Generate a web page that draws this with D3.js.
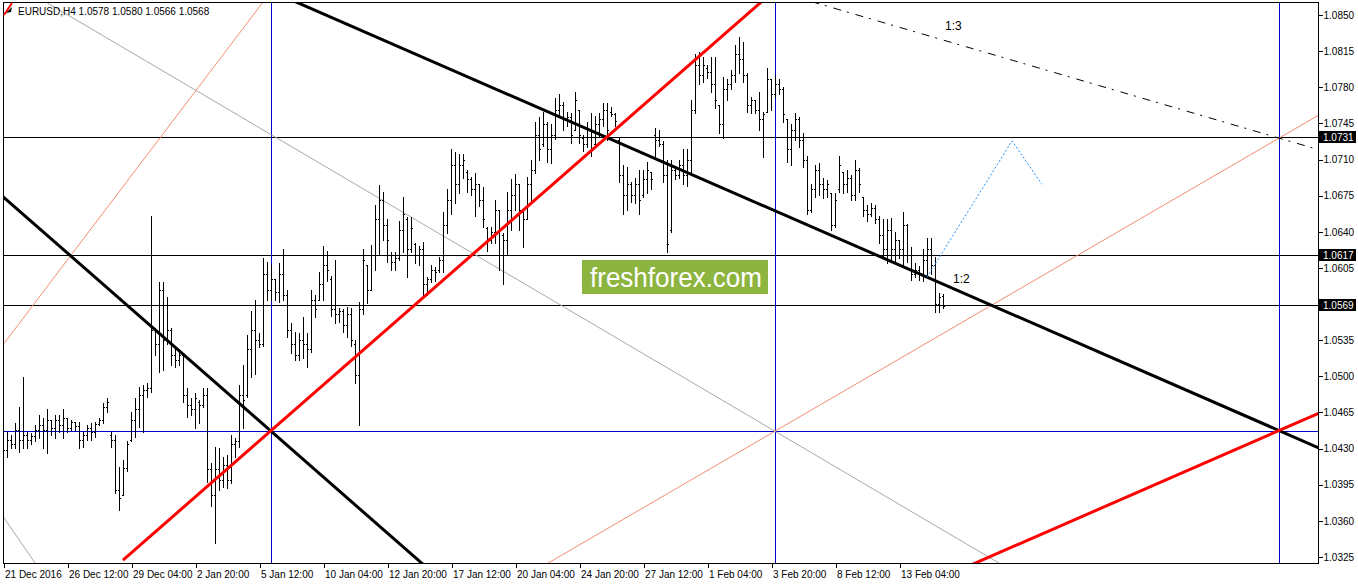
<!DOCTYPE html>
<html><head><meta charset="utf-8">
<script src="https://cdn.jsdelivr.net/npm/d3@7"></script>
<style>
html,body{margin:0;padding:0;background:#fff;overflow:hidden;}
svg{display:block;}
text{font-family:"Liberation Sans",Arial,sans-serif;}
</style></head><body>
<svg id="c" width="1358" height="584"></svg>
<script>
// ---------------- DATA ----------------
const symbol = "EURUSD,H4";
const lastOHLC = [1.0578, 1.0580, 1.0566, 1.0568];

const high = [
1.0432,1.0446,1.0443,1.0455,1.0470,1.0499,1.0446,1.0445,1.0453,1.0463,
1.0460,1.0468,1.0458,1.0463,1.0463,1.0468,1.0460,1.0458,1.0456,1.0456,
1.0446,1.0453,1.0455,1.0456,1.0460,1.0474,1.0479,1.0446,1.0443,1.0412,
1.0419,1.0437,1.0465,1.0479,1.0490,1.0492,1.0494,1.0655,1.0547,1.0591,
1.0591,1.0577,1.0547,1.0528,1.0526,1.0523,1.0489,1.0479,1.0484,1.0477,
1.0489,1.0489,1.0416,1.0432,1.0431,1.0422,1.0424,1.0443,1.0440,1.0492,
1.0511,1.0540,1.0563,1.0574,1.0542,1.0615,1.0611,1.0608,1.0594,1.0610,
1.0623,1.0584,1.0552,1.0543,1.0542,1.0557,1.0542,1.0584,1.0579,1.0601,
1.0626,1.0621,1.0597,1.0613,1.0566,1.0565,1.0567,1.0566,1.0535,1.0572,
1.0623,1.0608,1.0627,1.0666,1.0685,1.0679,1.0652,1.0620,1.0620,1.0650,
1.0674,1.0654,1.0654,1.0629,1.0626,1.0630,1.0596,1.0608,1.0606,1.0616,
1.0659,1.0681,1.0720,1.0717,1.0715,1.0715,1.0700,1.0693,1.0697,1.0686,
1.0683,1.0645,1.0645,1.0671,1.0661,1.0639,1.0679,1.0691,1.0696,1.0686,
1.0661,1.0693,1.0710,1.0746,1.0751,1.0756,1.0746,1.0744,1.0770,1.0773,
1.0766,1.0756,1.0755,1.0775,1.0758,1.0734,1.0746,1.0755,1.0752,1.0755,
1.0765,1.0765,1.0761,1.0755,1.0731,1.0705,1.0703,1.0688,1.0692,1.0700,
1.0700,1.0708,1.0698,1.0741,1.0739,1.0728,1.0710,1.0710,1.0702,1.0710,
1.0720,1.0720,1.0768,1.0812,1.0814,1.0809,1.0802,1.0809,1.0809,1.0763,
1.0790,1.0788,1.0797,1.0821,1.0829,1.0824,1.0794,1.0771,1.0768,1.0775,
1.0756,1.0799,1.0788,1.0791,1.0788,1.0780,1.0749,1.0744,1.0755,1.0751,
1.0736,1.0713,1.0686,1.0705,1.0707,1.0692,1.0690,1.0678,1.0678,1.0713,
1.0698,1.0700,1.0695,1.0710,1.0702,1.0674,1.0666,1.0668,1.0666,1.0655,
1.0652,1.0652,1.0653,1.0640,1.0632,1.0659,1.0648,1.0625,1.0610,1.0607,
1.0623,1.0634,1.0634,1.0616,1.0581,1.0580];

const low = [
1.0419,1.0422,1.0431,1.0431,1.0427,1.0431,1.0431,1.0434,1.0437,1.0440,
1.0431,1.0426,1.0443,1.0440,1.0446,1.0440,1.0446,1.0448,1.0448,1.0431,
1.0432,1.0438,1.0438,1.0441,1.0453,1.0455,1.0465,1.0432,1.0387,1.0371,
1.0385,1.0408,1.0437,1.0441,1.0451,1.0446,1.0480,1.0485,1.0521,1.0504,
1.0506,1.0531,1.0511,1.0509,1.0511,1.0475,1.0461,1.0463,1.0450,1.0455,
1.0470,1.0398,1.0374,1.0339,1.0390,1.0393,1.0392,1.0397,1.0422,1.0432,
1.0450,1.0480,1.0499,1.0502,1.0528,1.0529,1.0574,1.0574,1.0574,1.0572,
1.0574,1.0538,1.0523,1.0516,1.0516,1.0518,1.0509,1.0524,1.0557,1.0574,
1.0574,1.0592,1.0558,1.0552,1.0553,1.0543,1.0538,1.0529,1.0494,1.0453,
1.0560,1.0571,1.0584,1.0603,1.0618,1.0632,1.0611,1.0603,1.0603,1.0613,
1.0620,1.0596,1.0620,1.0610,1.0608,1.0579,1.0579,1.0591,1.0592,1.0601,
1.0601,1.0639,1.0657,1.0668,1.0678,1.0692,1.0679,1.0676,1.0655,1.0665,
1.0645,1.0621,1.0629,1.0629,1.0603,1.0589,1.0618,1.0642,1.0661,1.0642,
1.0625,1.0652,1.0671,1.0697,1.0710,1.0723,1.0708,1.0707,1.0730,1.0752,
1.0739,1.0742,1.0726,1.0739,1.0726,1.0718,1.0722,1.0713,1.0723,1.0732,
1.0742,1.0729,1.0752,1.0742,1.0688,1.0657,1.0661,1.0669,1.0668,1.0657,
1.0674,1.0678,1.0681,1.0713,1.0723,1.0688,1.0620,1.0640,1.0691,1.0692,
1.0686,1.0684,1.0698,1.0755,1.0783,1.0785,1.0789,1.0775,1.0760,1.0736,
1.0731,1.0768,1.0778,1.0785,1.0794,1.0785,1.0756,1.0755,1.0755,1.0739,
1.0712,1.0756,1.0758,1.0771,1.0773,1.0746,1.0708,1.0705,1.0729,1.0722,
1.0703,1.0657,1.0659,1.0674,1.0676,1.0673,1.0674,1.0642,1.0645,1.0679,
1.0678,1.0679,1.0671,1.0671,1.0679,1.0655,1.0650,1.0655,1.0649,1.0629,
1.0616,1.0610,1.0613,1.0610,1.0615,1.0606,1.0611,1.0593,1.0596,1.0593,
1.0592,1.0597,1.0599,1.0562,1.0562,1.0566];

const open = [
1.0424,1.0429,1.0438,1.0434,1.0448,1.0438,1.0443,1.0438,1.0442,1.0448,
1.0453,1.0448,1.0458,1.0450,1.0458,1.0453,1.0460,1.0450,1.0456,1.0452,
1.0438,1.0443,1.0450,1.0446,1.0454,1.0458,1.0470,1.0443,1.0438,1.0390,
1.0385,1.0411,1.0438,1.0458,1.0468,1.0482,1.0487,1.0489,1.0545,1.0531,
1.0584,1.0535,1.0545,1.0521,1.0516,1.0521,1.0482,1.0472,1.0468,1.0475,
1.0472,1.0482,1.0410,1.0385,1.0410,1.0400,1.0414,1.0400,1.0434,1.0437,
1.0482,1.0482,1.0526,1.0545,1.0535,1.0531,1.0599,1.0584,1.0594,1.0582,
1.0599,1.0579,1.0545,1.0531,1.0521,1.0535,1.0531,1.0526,1.0574,1.0574,
1.0589,1.0608,1.0594,1.0565,1.0560,1.0563,1.0550,1.0560,1.0531,1.0501,
1.0565,1.0608,1.0584,1.0618,1.0652,1.0671,1.0647,1.0618,1.0611,1.0615,
1.0642,1.0652,1.0623,1.0628,1.0618,1.0623,1.0589,1.0594,1.0603,1.0603,
1.0613,1.0647,1.0671,1.0705,1.0686,1.0705,1.0698,1.0691,1.0681,1.0686,
1.0671,1.0644,1.0632,1.0640,1.0661,1.0637,1.0632,1.0661,1.0676,1.0686,
1.0659,1.0652,1.0686,1.0700,1.0734,1.0725,1.0744,1.0720,1.0734,1.0758,
1.0763,1.0749,1.0751,1.0739,1.0758,1.0731,1.0725,1.0739,1.0725,1.0744,
1.0749,1.0758,1.0756,1.0754,1.0729,1.0695,1.0676,1.0686,1.0676,1.0686,
1.0676,1.0691,1.0698,1.0734,1.0729,1.0725,1.0695,1.0642,1.0700,1.0695,
1.0705,1.0695,1.0710,1.0758,1.0802,1.0792,1.0799,1.0795,1.0783,1.0763,
1.0744,1.0778,1.0783,1.0792,1.0812,1.0807,1.0792,1.0763,1.0768,1.0758,
1.0749,1.0756,1.0788,1.0773,1.0783,1.0778,1.0749,1.0720,1.0739,1.0749,
1.0729,1.0710,1.0661,1.0681,1.0700,1.0686,1.0681,1.0678,1.0647,1.0681,
1.0698,1.0686,1.0692,1.0676,1.0700,1.0674,1.0661,1.0657,1.0663,1.0652,
1.0637,1.0623,1.0642,1.0623,1.0632,1.0623,1.0647,1.0618,1.0599,1.0603,
1.0599,1.0613,1.0623,1.0608,1.0570,1.0578];

const close = [
1.0429,1.0438,1.0434,1.0448,1.0438,1.0443,1.0438,1.0442,1.0448,1.0453,
1.0448,1.0458,1.0450,1.0458,1.0453,1.0460,1.0450,1.0456,1.0452,1.0438,
1.0443,1.0450,1.0446,1.0454,1.0458,1.0470,1.0475,1.0438,1.0390,1.0382,
1.0411,1.0434,1.0458,1.0468,1.0482,1.0487,1.0489,1.0545,1.0531,1.0584,
1.0535,1.0545,1.0521,1.0516,1.0521,1.0482,1.0472,1.0468,1.0479,1.0472,
1.0482,1.0410,1.0385,1.0410,1.0400,1.0414,1.0400,1.0434,1.0437,1.0482,
1.0477,1.0526,1.0545,1.0535,1.0531,1.0599,1.0584,1.0594,1.0582,1.0599,
1.0579,1.0545,1.0531,1.0521,1.0535,1.0531,1.0526,1.0574,1.0565,1.0589,
1.0608,1.0603,1.0565,1.0560,1.0563,1.0550,1.0560,1.0535,1.0501,1.0565,
1.0613,1.0584,1.0618,1.0652,1.0671,1.0647,1.0632,1.0611,1.0615,1.0642,
1.0657,1.0623,1.0644,1.0618,1.0623,1.0589,1.0594,1.0603,1.0601,1.0613,
1.0647,1.0671,1.0705,1.0686,1.0705,1.0710,1.0691,1.0681,1.0686,1.0671,
1.0652,1.0632,1.0640,1.0661,1.0642,1.0632,1.0661,1.0676,1.0686,1.0661,
1.0652,1.0686,1.0700,1.0734,1.0720,1.0744,1.0720,1.0734,1.0758,1.0763,
1.0749,1.0751,1.0734,1.0768,1.0734,1.0725,1.0739,1.0720,1.0744,1.0749,
1.0758,1.0739,1.0754,1.0747,1.0695,1.0676,1.0686,1.0676,1.0686,1.0671,
1.0691,1.0700,1.0691,1.0729,1.0725,1.0695,1.0628,1.0700,1.0695,1.0705,
1.0695,1.0710,1.0758,1.0802,1.0792,1.0802,1.0795,1.0783,1.0768,1.0744,
1.0778,1.0783,1.0792,1.0812,1.0807,1.0792,1.0763,1.0768,1.0758,1.0749,
1.0754,1.0788,1.0773,1.0783,1.0778,1.0754,1.0720,1.0739,1.0749,1.0729,
1.0710,1.0661,1.0681,1.0700,1.0686,1.0681,1.0686,1.0647,1.0671,1.0705,
1.0686,1.0692,1.0676,1.0700,1.0686,1.0661,1.0657,1.0663,1.0652,1.0637,
1.0623,1.0642,1.0623,1.0632,1.0623,1.0647,1.0618,1.0599,1.0603,1.0599,
1.0613,1.0623,1.0608,1.0570,1.0577,1.0568];

const priceTicks = [1.0850,1.0815,1.0780,1.0745,1.0710,1.0675,1.0640,1.0605,1.0570,1.0535,1.0500,1.0465,1.0430,1.0395,1.0360,1.0325];
const dateTickIdx = [0,16,32,48,64,80,96,112,128,144,160,176,192,208,224];
const dateTickLabels = ["21 Dec 2016","26 Dec 12:00","29 Dec 04:00","2 Jan 20:00","5 Jan 12:00","10 Jan 04:00","12 Jan 20:00","17 Jan 12:00","20 Jan 04:00","24 Jan 20:00","27 Jan 12:00","1 Feb 04:00","3 Feb 20:00","8 Feb 12:00","13 Feb 04:00"];

const levelsBlack = [1.0731, 1.0617, 1.0569];
const levelsBlue = [1.0447];
const markedPrices = [1.0731, 1.0617, 1.0569];
const vLineIdx = [67, 193, 319];

// trend lines as [barIndex, price] anchor pairs
const trendThickBlack = [[[-5,1.0691],[110,1.0301]], [[60,1.0885],[340,1.0412]]];
const trendThickRed   = [[[30,1.0322],[200,1.0898]], [[230,1.0297],[340,1.0483]]];
const trendSalmon     = [[[130,1.0305],[340,1.0778]], [[-5,1.0505],[70,1.0888]]];
const trendGrey       = [[[0,1.0887],[260,1.0294]], [[-1,1.0370],[10,1.0308]]];
const trendDashDot    = [[180,1.0888],[340,1.0707]];
const projection      = [[231,1.0596],[252.25,1.0728],[259.75,1.0686]];
const ratioLabels     = [{t:"1:3", i:235.5, p:1.0840}, {t:"1:2", i:237.5, p:1.0594}];

// ---------------- DRAW ----------------
const W = 1358, H = 584;
const plot = {l:3, r:1318, t:2, b:563};
const x = d3.scaleLinear().domain([0, 328.75]).range([3, 1318]);
const y = d3.scaleLinear().domain([1.0325, 1.0850]).range([557, 15]);

const svg = d3.select('#c');
svg.append('rect').attr('width', W).attr('height', H).attr('fill', '#fff');
svg.append('defs').append('clipPath').attr('id', 'clip')
  .append('rect').attr('x', plot.l).attr('y', plot.t)
  .attr('width', plot.r - plot.l).attr('height', plot.b - plot.t);

const g = svg.append('g').attr('clip-path', 'url(#clip)');
const crisp = v => Math.floor(v) + 0.5;

// level lines
const lv = g.append('g').attr('shape-rendering', 'crispEdges');
lv.selectAll('line.hb').data(levelsBlack).join('line')
  .attr('x1', plot.l).attr('x2', plot.r)
  .attr('y1', d => crisp(y(d))).attr('y2', d => crisp(y(d)))
  .attr('stroke', '#000').attr('stroke-width', 1);
lv.selectAll('line.hblue').data(levelsBlue).join('line')
  .attr('x1', plot.l).attr('x2', plot.r)
  .attr('y1', d => crisp(y(d))).attr('y2', d => crisp(y(d)))
  .attr('stroke', '#0000CD').attr('stroke-width', 1);
lv.selectAll('line.v').data(vLineIdx).join('line')
  .attr('x1', d => crisp(x(d))).attr('x2', d => crisp(x(d)))
  .attr('y1', plot.t).attr('y2', plot.b)
  .attr('stroke', '#0000CD').attr('stroke-width', 1);

// thin lines
const line = d3.line().x(d => x(d[0])).y(d => y(d[1]));
g.selectAll('path.grey').data(trendGrey).join('path')
  .attr('d', line).attr('fill', 'none').attr('stroke', '#a8a8a8').attr('stroke-width', 1);
g.selectAll('path.salmon').data(trendSalmon).join('path')
  .attr('d', line).attr('fill', 'none').attr('stroke', '#f58c70').attr('stroke-width', 1);

// bars
const n = Math.min(high.length, low.length, open.length, close.length);
const bars = d3.range(n).map(i => ({i, o:open[i], h:high[i], l:low[i], c:close[i]}));
const bg = g.append('g').attr('shape-rendering', 'crispEdges').attr('fill', '#000');
bg.selectAll('rect.hl').data(bars).join('rect')
  .attr('x', d => Math.round(x(d.i)))
  .attr('y', d => Math.round(y(d.h)))
  .attr('width', 1)
  .attr('height', d => Math.max(1, Math.round(y(d.l)) - Math.round(y(d.h)) + 1));
bg.selectAll('rect.o').data(bars).join('rect')
  .attr('x', d => Math.round(x(d.i)) - 1).attr('y', d => Math.round(y(d.o)))
  .attr('width', 1).attr('height', 1);
bg.selectAll('rect.c').data(bars).join('rect')
  .attr('x', d => Math.round(x(d.i)) + 1).attr('y', d => Math.round(y(d.c)))
  .attr('width', 1).attr('height', 1);

// thick lines
g.selectAll('path.tb').data(trendThickBlack).join('path')
  .attr('d', line).attr('fill', 'none').attr('stroke', '#000').attr('stroke-width', 3);
g.selectAll('path.tr').data(trendThickRed).join('path')
  .attr('d', line).attr('fill', 'none').attr('stroke', '#ff0000').attr('stroke-width', 3);

// dash-dot and projection
g.append('path').attr('d', line(trendDashDot)).attr('fill', 'none')
  .attr('stroke', '#000').attr('stroke-width', 1).attr('stroke-dasharray', '8,6,2,7');
g.append('path').attr('d', line(projection)).attr('fill', 'none')
  .attr('stroke', '#1e90ff').attr('stroke-width', 1).attr('stroke-dasharray', '2,2');

// ratio labels
g.selectAll('text.r').data(ratioLabels).join('text')
  .attr('x', d => x(d.i)).attr('y', d => y(d.p))
  .attr('dy', '0.35em').attr('font-size', 12).attr('fill', '#000').text(d => d.t);

// frame
const fr = svg.append('g').attr('shape-rendering', 'crispEdges').attr('stroke', '#000').attr('stroke-width', 1);
fr.append('line').attr('x1', 3.5).attr('x2', 3.5).attr('y1', plot.t).attr('y2', plot.b + 1);
fr.append('line').attr('x1', 3).attr('x2', plot.r + 1).attr('y1', 2.5).attr('y2', 2.5);
fr.append('line').attr('x1', plot.r + 0.5).attr('x2', plot.r + 0.5).attr('y1', plot.t).attr('y2', plot.b + 1);
fr.append('line').attr('x1', 3).attr('x2', plot.r + 1).attr('y1', plot.b + 0.5).attr('y2', plot.b + 0.5);

// right price axis
const ya = svg.append('g').attr('transform', `translate(${plot.r + 0.5},0)`)
  .call(d3.axisRight(y).tickValues(priceTicks).tickFormat(d3.format('.4f')).tickSize(4).tickSizeOuter(0).tickPadding(1));
ya.select('.domain').remove();
ya.selectAll('line').attr('stroke', '#000').attr('shape-rendering', 'crispEdges');
ya.selectAll('text').attr('font-size', 10).attr('fill', '#000').attr('font-family', '"Liberation Sans",Arial,sans-serif');

// marked price boxes
const mk = svg.append('g').selectAll('g').data(markedPrices).join('g')
  .attr('transform', d => `translate(${plot.r + 1},${Math.floor(y(d))})`);
mk.append('rect').attr('x', 0).attr('y', -6).attr('width', 37).attr('height', 12).attr('fill', '#000');
mk.append('text').attr('x', 4).attr('y', 0).attr('dy', '0.35em').attr('font-size', 10).attr('fill', '#fff')
  .text(d => d3.format('.4f')(d));

// bottom date axis
const xa = svg.append('g').attr('transform', `translate(0.5,${plot.b + 0.5})`)
  .call(d3.axisBottom(x).tickValues(dateTickIdx).tickFormat((d, i) => dateTickLabels[i]).tickSize(4).tickSizeOuter(0).tickPadding(3));
xa.select('.domain').remove();
xa.selectAll('line').attr('stroke', '#000').attr('shape-rendering', 'crispEdges');
xa.selectAll('text').attr('font-size', 10).attr('fill', '#000').attr('text-anchor', 'start').attr('dx', 1)
  .attr('font-family', '"Liberation Sans",Arial,sans-serif');

// title + icon
svg.append('line').attr('x1', 4).attr('y1', 15).attr('x2', 12).attr('y2', 3).attr('stroke', '#ff0000').attr('stroke-width', 2);
svg.append('path').attr('d', 'M6,13 L12,7 L11,12 Z').attr('fill', '#000');
svg.append('text').attr('x', 18).attr('y', 15).attr('font-size', 10).attr('fill', '#000')
  .text(symbol + "  " + lastOHLC.map(d3.format('.4f')).join(' '));

// watermark
const wm = svg.append('g');
wm.append('rect').attr('x', 582).attr('y', 260).attr('width', 186).attr('height', 34).attr('fill', '#8cb43f');
wm.append('text').attr('x', 590).attr('y', 287).attr('font-size', 27)
  .attr('font-family', '"Open Sans",sans-serif').attr('fill', '#fff')
  .attr('textLength', 172).attr('lengthAdjust', 'spacingAndGlyphs').text('freshforex.com');
</script>
</body></html>
